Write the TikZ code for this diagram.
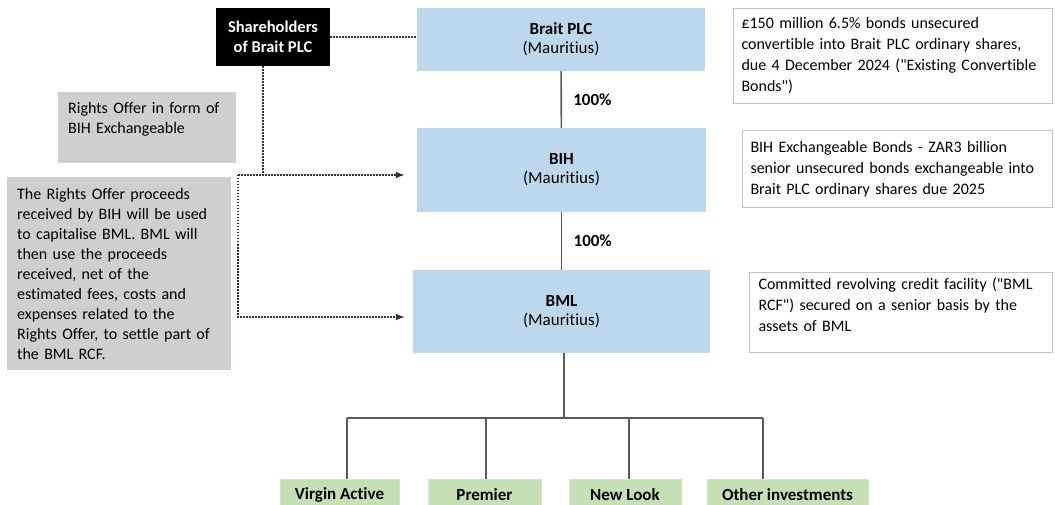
\documentclass[tikz,border=0pt]{standalone}
\usepackage{fontspec}
\setmainfont{Carlito}[Ligatures={TeXOff,NoCommon}]
\usetikzlibrary{arrows.meta, positioning, calc}
\definecolor{boxblue}{HTML}{BDD7EE}
\definecolor{boxgray}{HTML}{D0CECE}
\definecolor{boxgreen}{HTML}{C5E0B4}
\definecolor{linegray}{HTML}{5A5A5A}
\definecolor{bordergray}{HTML}{C4C4C4}
\definecolor{dotgray}{HTML}{333333}

\begin{document}
\begin{tikzpicture}[
    x=1pt, y=-1pt,
    entity/.style={rectangle, fill=boxblue, inner sep=0pt, align=center,
                   font=\fontsize{17}{19}\selectfont},
    holders/.style={rectangle, fill=black, text=white, inner sep=0pt, align=center,
                    font=\fontsize{16.5}{20}\selectfont\bfseries},
    note/.style={rectangle, draw=bordergray, line width=1pt, fill=white, anchor=north west,
                 inner ysep=0pt, inner xsep=9pt, align=left,
                 font=\fontsize{16}{21}\selectfont},
    remark/.style={rectangle, fill=boxgray, anchor=north west, inner ysep=0pt,
                   inner xsep=10pt, align=left, font=\fontsize{16}{20}\selectfont},
    holding/.style={rectangle, fill=boxgreen, draw=boxgreen!80!white, inner sep=0pt,
                    minimum height=32pt, font=\fontsize{17}{18}\selectfont\bfseries},
    own/.style={draw=linegray, line width=1.6pt},
    dots/.style={draw=dotgray, line width=1.5pt, dash pattern=on 1.5pt off 1.5pt},
    flow/.style={dots, -{Latex[length=9pt, width=7pt]}, shorten >=12pt},
    pct/.style={right=8pt, font=\fontsize{17}{18}\selectfont\bfseries}
]
\useasboundingbox (0,0) rectangle (1055,505);

% group entities
\node[entity, minimum width=288pt, minimum height=63pt] (brait) at (561,39.5)
    {\textbf{Brait PLC}\\(Mauritius)};
\node[entity, minimum width=289pt, minimum height=84pt] (bih) at (561.5,170)
    {\textbf{BIH}\\(Mauritius)};
\node[entity, minimum width=297pt, minimum height=83pt] (bml) at (561.5,311.5)
    {\textbf{BML}\\(Mauritius)};

\node[holders, minimum width=114pt, minimum height=58pt] (owners) at (273,37)
    {Shareholders\\of Brait PLC};

% notes on the right
\node[note, inner xsep=8pt, text width=303pt, minimum height=95pt] (cbonds) at (733,8)
    {£150 million 6.5\% bonds unsecured\\convertible into Brait PLC ordinary shares,\\due 4 December 2024 ("Existing Convertible\\Bonds")};
\node[note, inner xsep=8pt, text width=294pt, minimum height=77pt] (xbonds) at (742,130)
    {BIH Exchangeable Bonds - ZAR3 billion\\senior unsecured bonds exchangeable into\\Brait PLC ordinary shares due 2025};
\node[note, text width=285pt, minimum height=80pt] (rcf) at (749,272)
    {Committed revolving credit facility ("BML\\RCF") secured on a senior basis by the\\assets of BML\\[-6pt]\mbox{}};

% remarks on the left
\node[remark, text width=158pt, minimum height=71pt] (offer) at (58,92)
    {Rights Offer in form of\\BIH Exchangeable\\\mbox{}};
\node[remark, text width=204pt, minimum height=193pt] (proceeds) at (7,177)
    {The Rights Offer proceeds\\received by BIH will be used\\to capitalise BML. BML will\\then use the proceeds\\received, net of the\\estimated fees, costs and\\expenses related to the\\Rights Offer, to settle part of\\the BML RCF.};

% investments
\node[holding, minimum width=119pt] (va) at (339.5,495) {Virgin Active};
\node[holding, minimum width=113pt] (pr) at (484.5,495) {Premier};
\node[holding, minimum width=112pt] (nl) at (625,495) {New Look};
\node[holding, minimum width=161pt] (oi) at (787.5,495) {Other investments};

% ownership
\draw[own] (brait) -- node[pct] {100\%} (bih);
\draw[own] (bih) -- node[pct] {100\%} (bml);

\coordinate (hub) at (564,418);
\coordinate (t1) at (347,418);
\coordinate (t2) at (486,418);
\coordinate (t3) at (629,418);
\coordinate (t4) at (763,418);
\draw[own] (bml.south -| hub) -- (hub);
\draw[own] (t1) -- (t4);
\foreach \t/\n in {t1/va, t2/pr, t3/nl, t4/oi}
    \draw[own] (\t) -- (\t |- \n.north);

% rights offer flow
\coordinate (drop) at (263,175);
\coordinate (split) at (238,175);
\coordinate (corner) at (238,317);
\draw[dots] (owners.east) -- (owners.east -| brait.west);
\draw[dots] (owners.south -| drop) -- (drop);
\draw[flow] (split) -- (split -| bih.west);
\draw[flow, shorten >=8pt] (split) -- (corner) -- (corner -| bml.west);

\end{tikzpicture}
\end{document}
